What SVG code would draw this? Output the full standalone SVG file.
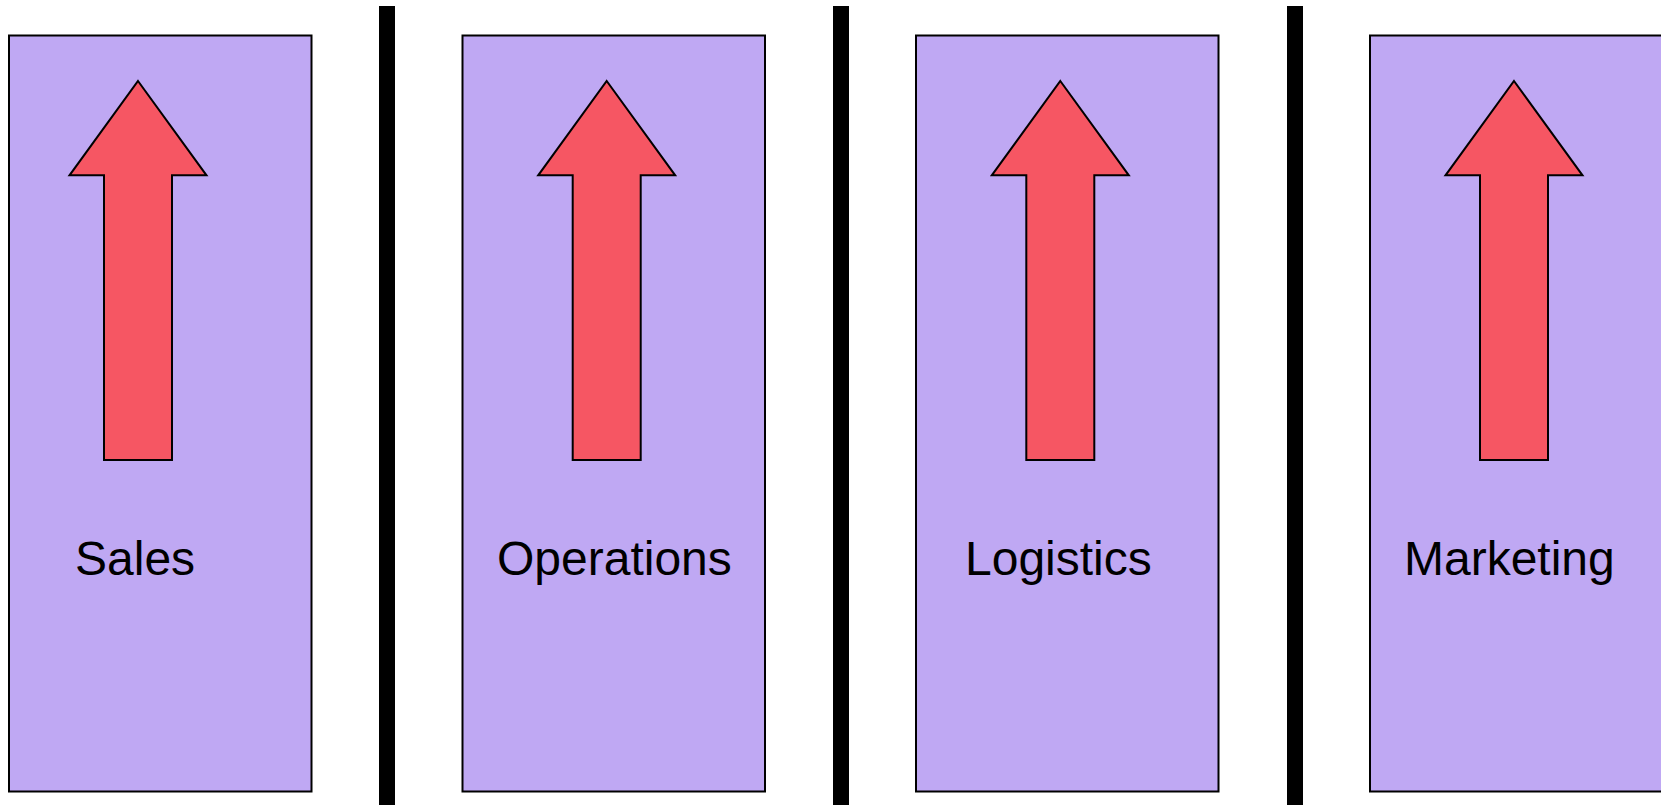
<svg xmlns="http://www.w3.org/2000/svg" width="1661" height="805" viewBox="0 0 1661 805">
<style>
.panel{fill:#BFA8F3;stroke:#000;stroke-width:2}
.arrow{fill:#F65663;stroke:#000;stroke-width:2;stroke-linejoin:miter}
.bar{fill:#000}
.label{font-family:"Liberation Sans",Arial,sans-serif;font-size:48px;fill:#000}
</style>
<defs>
<polygon id="up" class="arrow" points="0,-379 68.5,-284.7 34,-284.7 34,0 -34,0 -34,-284.7 -68.5,-284.7"/>
</defs>
<g id="dividers">
<rect class="bar" x="379" y="6" width="16" height="800"/>
<rect class="bar" x="833" y="6" width="16" height="800"/>
<rect class="bar" x="1287" y="6" width="16" height="800"/>
</g>
<g id="sales">
<rect class="panel" x="9" y="35.5" width="302.5" height="756"/>
<use href="#up" x="138" y="460"/>
<text class="label" x="75" y="575">Sales</text>
</g>
<g id="operations">
<rect class="panel" x="462.5" y="35.5" width="302.5" height="756"/>
<use href="#up" x="606.7" y="460"/>
<text class="label" x="497" y="575">Operations</text>
</g>
<g id="logistics">
<rect class="panel" x="916" y="35.5" width="302.5" height="756"/>
<use href="#up" x="1060.3" y="460"/>
<text class="label" x="965" y="575">Logistics</text>
</g>
<g id="marketing">
<rect class="panel" x="1370" y="35.5" width="302.5" height="756"/>
<use href="#up" x="1514" y="460"/>
<text class="label" x="1404" y="575">Marketing</text>
</g>
</svg>
